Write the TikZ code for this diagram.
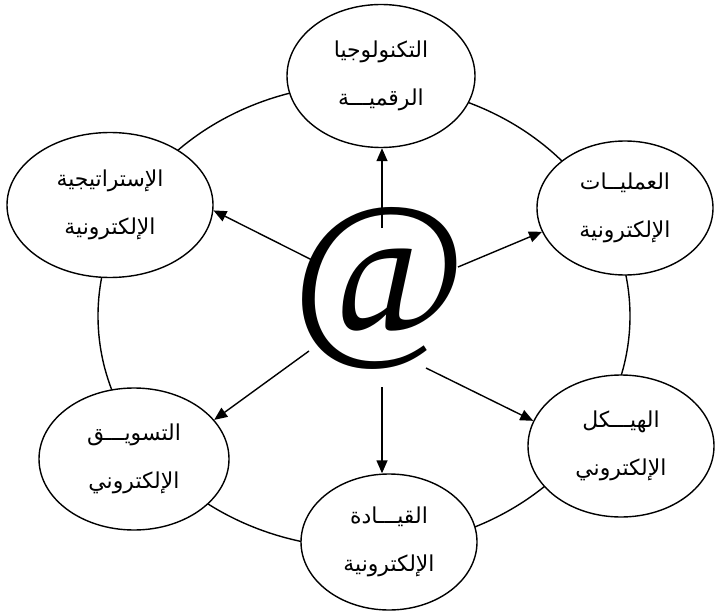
\documentclass[tikz,border=0pt]{standalone}
\usepackage{fontspec}
\setmainfont{Liberation Sans}
\newfontfamily\arabicfont[Script=Arabic]{DejaVu Sans}
\newfontfamily\atfont{Liberation Serif}
\TeXXeTstate=1
\usetikzlibrary{shapes.geometric,arrows.meta}
\begin{document}
\begin{tikzpicture}[x=1bp,y=-1bp,
  lw/.style={line width=1.4bp},
  bubble/.style={ellipse, draw, lw, fill=white, inner sep=0pt, align=center,
    font=\arabicfont\fontsize{22}{48}\selectfont},
  arr/.style={lw, -{Triangle[length=13bp,width=11bp]}}]
\useasboundingbox (0,0) rectangle (715,613);
% outer ring
\draw[lw] (364,316) ellipse [x radius=266, y radius=232];
% bubbles
\node[bubble, minimum width=188bp, minimum height=143bp] (top) at (381,76)
  {\beginR التكنولوجيا\endR\\\beginR الرقميـــة\endR};
\node[bubble, minimum width=176bp, minimum height=134bp] (ur) at (625,208)
  {\beginR العمليــات\endR\\\beginR الإلكترونية\endR};
\node[bubble, minimum width=206bp, minimum height=145bp] (ul) at (110,205)
  {\beginR الإستراتيجية\endR\\\beginR الإلكترونية\endR};
\node[bubble, minimum width=190bp, minimum height=142bp] (ll) at (134,459)
  {\beginR التسويـــق\endR\\\beginR الإلكتروني\endR};
\node[bubble, minimum width=176bp, minimum height=136bp] (bot) at (389,542)
  {\beginR القيـــادة\endR\\\beginR الإلكترونية\endR};
\node[bubble, minimum width=186bp, minimum height=142bp] (lr) at (621,446)
  {\beginR الهيـــكل\endR\\\beginR الإلكتروني\endR};
% centre symbol
\node[font=\atfont\fontsize{190}{190}\selectfont, inner sep=0pt] (at) at (380,288) {@};
% arrow starts
\coordinate (s1) at (382,228);
\coordinate (s2) at (312,260);
\coordinate (s3) at (458,267);
\coordinate (s4) at (309,351);
\coordinate (s5) at (382,387);
\coordinate (s6) at (426,368);
% arrows
\draw[arr] (s1) -- (s1 |- top.south);
\draw[arr] (s2) -- (ul.-3);
\draw[arr] (s3) -- (ur.196);
\draw[arr] (s4) -- (ll.26);
\draw[arr] (s5) -- (s5 |- bot.north);
\draw[arr] (s6) -- (lr.164);
\end{tikzpicture}
\end{document}
